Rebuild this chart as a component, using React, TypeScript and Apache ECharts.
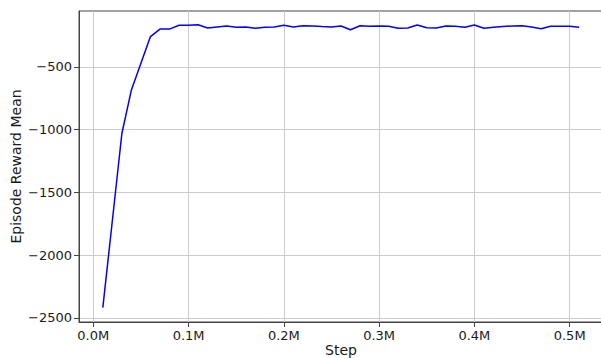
import React, { useEffect, useRef } from "react";
import * as echarts from "echarts";

const steps: number[] = [
  10000, 20000, 30000, 40000, 50000, 60000, 70000, 80000, 90000, 100000,
  110000, 120000, 130000, 140000, 150000, 160000, 170000, 180000, 190000, 200000,
  210000, 220000, 230000, 240000, 250000, 260000, 270000, 280000, 290000, 300000,
  310000, 320000, 330000, 340000, 350000, 360000, 370000, 380000, 390000, 400000,
  410000, 420000, 430000, 440000, 450000, 460000, 470000, 480000, 490000, 500000,
  510000,
];

const rewardMean: number[] = [
  -2418, -1725, -1030, -683, -470, -258, -198, -198, -168, -168,
  -163, -189, -181, -173, -184, -181, -192, -184, -181, -168,
  -181, -171, -173, -178, -181, -173, -203, -171, -176, -173,
  -176, -192, -189, -165, -187, -189, -173, -176, -184, -165,
  -192, -184, -178, -173, -171, -181, -195, -176, -176, -176,
  -184,
];

const xTicks: number[] = [0, 100000, 200000, 300000, 400000, 500000];
const yTicks: number[] = [-2500, -2000, -1500, -1000, -500];

const FONT = "DejaVu Sans";

export default function App() {
  const ref = useRef<HTMLDivElement>(null);
  useEffect(() => {
    document.body.style.margin = "0";
    document.body.style.overflow = "hidden";
    if (!ref.current) return;
    const chart = echarts.init(ref.current, undefined, { renderer: "svg" });
    const data = steps.map((s, i) => [s, rewardMean[i]]);
    const minus = (s: string) => s.replace("-", "\u2212");
    chart.setOption({
      animation: false,
      backgroundColor: "#ffffff",
      grid: {
        left: 79,
        top: 11,
        right: -2,
        bottom: 36,
        outerBoundsMode: "none",
        containLabel: false,
        show: true,
        borderColor: "#444444",
        borderWidth: 1,
        backgroundColor: "transparent",
      },
      xAxis: {
        type: "value",
        min: -15000,
        max: 535000,
        name: "Step",
        nameLocation: "middle",
        nameGap: 21,
        nameMoveOverlap: false,
        nameTextStyle: { fontFamily: FONT, fontSize: 14, color: "#1a1a1a" },
        axisLine: { show: true, onZero: false, lineStyle: { color: "#444444", width: 1 } },
        axisTick: {
          show: true,
          length: 5,
          customValues: xTicks,
          lineStyle: { color: "#444444", width: 1 },
        },
        axisLabel: {
          customValues: xTicks,
          margin: 7,
          fontFamily: FONT,
          fontSize: 13,
          color: "#1a1a1a",
          formatter: (v: number) => (v / 1e6).toFixed(1) + "M",
        },
        splitLine: { show: true, lineStyle: { color: "#cccccc", width: 1 } },
      },
      yAxis: {
        type: "value",
        min: -2532,
        max: -54,
        name: "Episode Reward Mean",
        nameLocation: "middle",
        nameGap: 56,
        nameMoveOverlap: false,
        nameTextStyle: { fontFamily: FONT, fontSize: 14, color: "#1a1a1a" },
        axisLine: { show: true, onZero: false, lineStyle: { color: "#444444", width: 1 } },
        axisTick: {
          show: true,
          length: 5,
          customValues: yTicks,
          lineStyle: { color: "#444444", width: 1 },
        },
        axisLabel: {
          customValues: yTicks,
          margin: 7,
          fontFamily: FONT,
          fontSize: 13,
          color: "#1a1a1a",
          formatter: (v: number) => minus(String(v)),
        },
        splitLine: { show: true, lineStyle: { color: "#cccccc", width: 1 } },
      },
      series: [
        {
          type: "line",
          data,
          showSymbol: false,
          symbol: "none",
          lineStyle: { color: "#0000ff", width: 1.5 },
        },
      ],
    });
    return () => chart.dispose();
  }, []);
  return <div ref={ref} style={{ width: 601, height: 358 }} />;
}
